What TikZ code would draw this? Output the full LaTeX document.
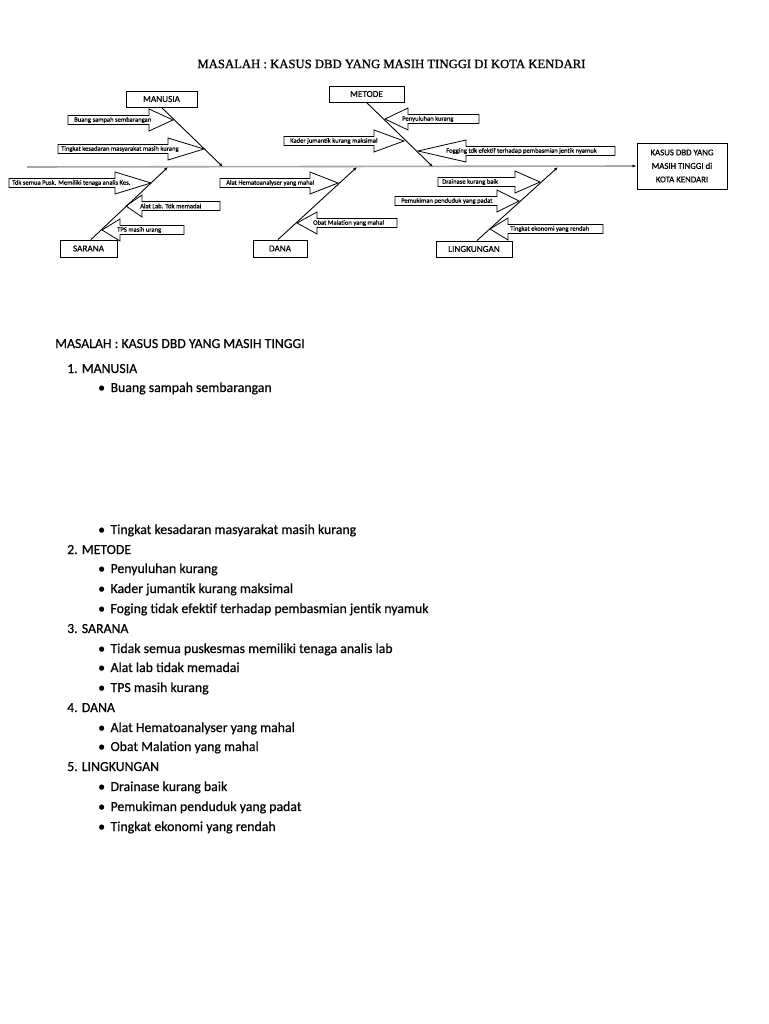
\documentclass[tikz,border=0pt]{standalone}
\usepackage{fontspec}
\setmainfont{Carlito}[FakeBold=0.5]
\newfontfamily\titlefont{Liberation Serif}[FakeBold=1.0]
\usetikzlibrary{arrows.meta}
\tikzset{
  catbox/.style={draw, line width=0.9pt, inner sep=0pt, minimum height=16, font=\fontsize{9.2}{10}\selectfont},
  lbl/.style={inner sep=0pt, anchor=west, font=\fontsize{6.6}{7}\selectfont},
  barrow/.style={draw, line width=0.8pt, fill=white},
  bone/.style={line width=0.9pt, -{Latex[length=4pt,width=3pt]}},
  spine/.style={line width=1.6pt, draw=gray!70, -{Latex[length=4pt,width=3pt,black]}},
  ltxt/.style={inner sep=0pt, anchor=base west, font=\fontsize{13.8}{15}\selectfont},
}
% name, tail x, tip x, y, head-base x, text x, text
\newcommand\blockarrow[7]{%
  \draw[barrow] (#2,#4-4.5) -- (#5,#4-4.5) -- (#5,#4-11) -- (#3,#4) -- (#5,#4+11) -- (#5,#4+4.5) -- (#2,#4+4.5) -- cycle;
  \node[lbl] (#1) at (#6,#4) {#7};}
\begin{document}
\begin{tikzpicture}[x=1pt,y=-1pt]
\useasboundingbox[fill=white] (0,0) rectangle (768,1024);

% title
\node[inner sep=0pt, font=\titlefont\fontsize{12.7}{15}\selectfont] (title) at (391.5,64) {MASALAH : KASUS DBD YANG MASIH TINGGI DI KOTA KENDARI};

% category boxes
\node[catbox, minimum width=71] (manusia) at (161.5,99) {MANUSIA};
\node[catbox, minimum width=75] (metode) at (366.5,94) {METODE};
\node[catbox, minimum width=57, minimum height=17] (sarana) at (88.5,248.5) {SARANA};
\node[catbox, minimum width=54, minimum height=17] (dana) at (280,248.5) {DANA};
\node[catbox, minimum width=76] (lingkungan) at (474,249) {LINGKUNGAN};
\node[draw, line width=0.9pt, minimum width=90, minimum height=46, inner sep=0pt, align=center,
      font=\fontsize{8.8}{13.5}\selectfont] (effect) at (682,166) {KASUS DBD YANG\\MASIH TINGGI di\\KOTA KENDARI};

% spine points
\coordinate (s0) at (27,167);
\coordinate (pm) at (223,167);
\coordinate (ps) at (168,167);
\coordinate (pt) at (433,167);
\coordinate (pd) at (357,167);
\coordinate (pl) at (558,167);

% block arrows
\blockarrow{a1}{68}{173}{120}{149}{74}{Buang sampah sembarangan}
\blockarrow{a2}{58}{204}{149}{168}{61}{Tingkat kesadaran masyarakat masih kurang}
\blockarrow{a3}{9}{151}{183}{115}{12}{Tdk semua Pusk. Memiliki tenaga analis Kes.}
\blockarrow{a4}{220}{126}{206}{142}{140}{Alat Lab. Tdk memadai}
\blockarrow{a5}{184}{102}{230}{120}{117}{TPS masih urang}
\blockarrow{a6}{479}{385}{119}{408}{402}{Penyuluhan kurang}
\blockarrow{a7}{284}{404}{141}{374}{290}{Kader jumantik kurang maksimal}
\blockarrow{a8}{615}{418}{151}{466}{446}{Fogging tdk efektif terhadap pembasmian jentik nyamuk}
\blockarrow{a9}{220}{338}{183}{310}{226}{Alat Hematoanalyser yang mahal}
\blockarrow{a10}{397}{297}{223}{317}{313}{Obat Malation yang mahal}
\blockarrow{a11}{438}{540}{182}{515}{442}{Drainase kurang baik}
\blockarrow{a12}{395}{519}{201}{497}{401}{Pemukiman penduduk yang padat}
\blockarrow{a13}{603}{490}{229}{508}{510}{Tingkat ekonomi yang rendah}

% spine and bones
\draw[spine] (s0) -- (effect.west);
\draw[bone] (manusia.south) -- (pm);
\draw[bone] ([xshift=2.5]sarana.north) -- (ps);
\draw[bone] (metode.south) -- (pt);
\draw[bone] ([xshift=-2]dana.north) -- (pd);
\draw[bone] ([xshift=3]lingkungan.north) -- (pl);

% lower list
\node[ltxt] (h) at (55,348) {MASALAH : KASUS DBD YANG MASIH TINGGI};
\node[ltxt] (n1) at (67,373) {1. MANUSIA};
\node[ltxt] (b11) at (98,392) {•\hspace{5.5pt}Buang sampah sembarangan};
\node[ltxt] (b12) at (98,534) {•\hspace{5.5pt}Tingkat kesadaran masyarakat masih kurang};
\node[ltxt] (n2) at (67,554) {2. METODE};
\node[ltxt] (b21) at (98,573) {•\hspace{5.5pt}Penyuluhan kurang};
\node[ltxt] (b22) at (98,593) {•\hspace{5.5pt}Kader jumantik kurang maksimal};
\node[ltxt] (b23) at (98,613) {•\hspace{5.5pt}Foging tidak efektif terhadap pembasmian jentik nyamuk};
\node[ltxt] (n3) at (67,633) {3. SARANA};
\node[ltxt] (b31) at (98,653) {•\hspace{5.5pt}Tidak semua puskesmas memiliki tenaga analis lab};
\node[ltxt] (b32) at (98,672) {•\hspace{5.5pt}Alat lab tidak memadai};
\node[ltxt] (b33) at (98,692) {•\hspace{5.5pt}TPS masih kurang};
\node[ltxt] (n4) at (67,712) {4. DANA};
\node[ltxt] (b41) at (98,732) {•\hspace{5.5pt}Alat Hematoanalyser yang mahal};
\node[ltxt] (b42) at (98,751) {•\hspace{5.5pt}Obat Malation yang mahal};
\node[ltxt] (n5) at (67,771) {5. LINGKUNGAN};
\node[ltxt] (b51) at (98,791) {•\hspace{5.5pt}Drainase kurang baik};
\node[ltxt] (b52) at (98,811) {•\hspace{5.5pt}Pemukiman penduduk yang padat};
\node[ltxt] (b53) at (98,831) {•\hspace{5.5pt}Tingkat ekonomi yang rendah};
\end{tikzpicture}
\end{document}
